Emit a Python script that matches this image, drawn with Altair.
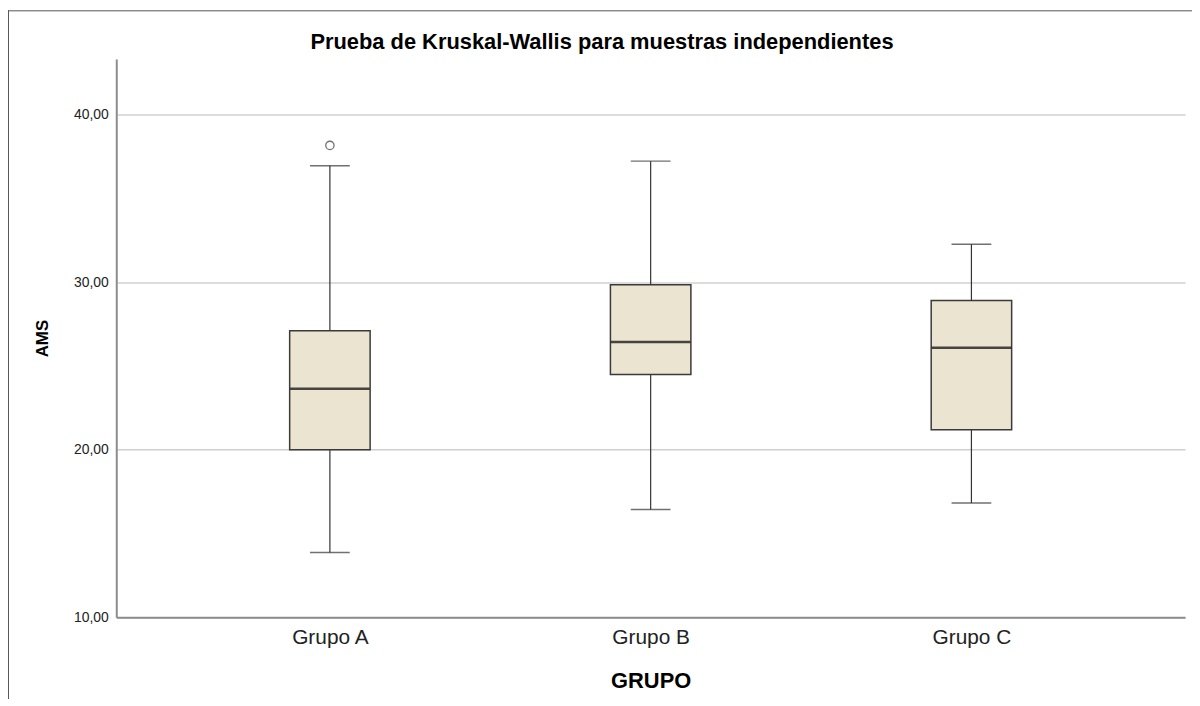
import altair as alt
import pandas as pd

grupos = ["Grupo A", "Grupo B", "Grupo C"]
minimo = [13.87, 16.44, 16.82]
q1 = [20.00, 24.49, 21.20]
mediana = [23.65, 26.44, 26.09]
q3 = [27.11, 29.86, 28.92]
maximo = [36.97, 37.24, 32.27]
atipico_grupo = ["Grupo A"]
atipico_valor = [38.18]
y_ticks = [10, 20, 30, 40]
titulo = ["Prueba de Kruskal-Wallis para muestras independientes"]

df = pd.DataFrame({"GRUPO": grupos, "minimo": minimo, "q1": q1,
                   "mediana": mediana, "q3": q3, "maximo": maximo})
df_out = pd.DataFrame({"GRUPO": atipico_grupo, "valor": atipico_valor})
df_title = pd.DataFrame({"t": titulo})
one = pd.DataFrame({"a": [0]})

FONT = "Liberation Sans"
xs = alt.Scale(type="point", padding=0.666, domain=grupos)
ys = alt.Scale(domain=[10, 43.34], nice=False, zero=False)
label_expr = "replace(format(datum.value, '.2f'), '.', ',')"

def X():
    return alt.X("GRUPO:N", scale=xs, sort=grupos, title="GRUPO")

def Y(field):
    return alt.Y(field, type="quantitative", scale=ys, title="AMS",
                 axis=alt.Axis(values=y_ticks, labelExpr=label_expr))

base = alt.Chart(df)

whisker = base.mark_rule(color="#333333", strokeWidth=1.2).encode(
    x=X(), y=Y("minimo"), y2="maximo")
cap_lo = base.mark_tick(color="#333333", size=40, thickness=1.5).encode(
    x=X(), y=Y("minimo"))
cap_hi = base.mark_tick(color="#333333", size=40, thickness=1.5).encode(
    x=X(), y=Y("maximo"))
box = base.mark_bar(size=81, fill="#EAE4D0", stroke="#3a3a3a", strokeWidth=1.5).encode(
    x=X(), y=Y("q1"), y2="q3")
med = base.mark_tick(color="#000000", size=80, thickness=2.5).encode(
    x=X(), y=Y("mediana"))
outl = alt.Chart(df_out).mark_point(shape="circle", filled=False, size=70,
                                    color="#333333", strokeWidth=1.3).encode(
    x=X(), y=Y("valor"))

title_txt = alt.Chart(df_title).mark_text(
    font=FONT, fontSize=22, fontWeight="bold", color="#000000",
    align="center", baseline="alphabetic").encode(
    text="t:N", x=alt.value(489), y=alt.value(-10))

frame_left = alt.Chart(one).mark_rule(color="#555555", strokeWidth=1).encode(
    x=alt.value(-108.5), y=alt.value(-49), y2=alt.value(700))
frame_top = alt.Chart(one).mark_rule(color="#555555", strokeWidth=1).encode(
    x=alt.value(-109), x2=alt.value(1200), y=alt.value(-48.5))

chart = alt.layer(whisker, cap_lo, cap_hi, box, med, outl, title_txt,
                  frame_left, frame_top).properties(
    width=1076, height=562,
    autosize=alt.AutoSizeParams(type="none"),
    padding={"left": 109, "top": 49, "right": 7, "bottom": 80},
).configure_view(stroke=None).configure_axis(
    domainColor="#8c8c8c", domainWidth=2, gridColor="#d0d0d0", gridWidth=1.5,
    ticks=False, labelFont=FONT, labelColor="#222222", titleFont=FONT,
    titleFontWeight="bold", titleColor="#000000",
).configure_axisX(
    grid=False, labelFontSize=21, labelPadding=9, titleFontSize=22, titlePadding=24, labelAngle=0,
).configure_axisY(
    grid=True, labelFontSize=14, labelPadding=8, titleFontSize=17, titlePadding=22,
)

chart.save("out.html", embed_options={"renderer": "svg", "actions": False})
